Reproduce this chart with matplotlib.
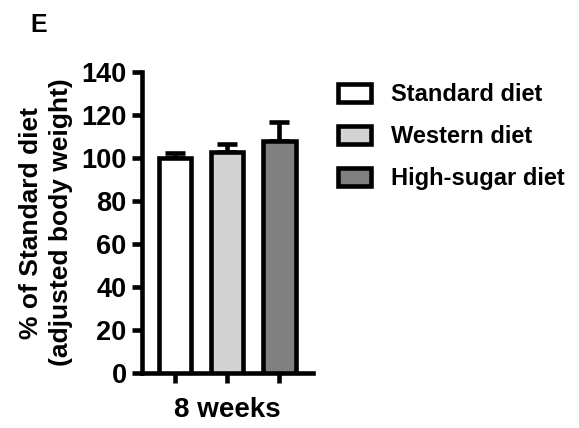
import numpy as np
import matplotlib
matplotlib.use("Agg")
import matplotlib.pyplot as plt

plt.rcParams['font.family'] = ['Liberation Sans', 'DejaVu Sans']
plt.rcParams['font.weight'] = 'bold'

# data
groups = ["Standard diet", "Western diet", "High-sugar diet"]
means = [100.0, 102.6, 108.0]
sem_upper = [2.2, 4.1, 8.6]
colors = ["#ffffff", "#d3d3d3", "#808080"]
yticks = [0, 20, 40, 60, 80, 100, 120, 140]

fig = plt.figure(figsize=(5.79, 4.28), dpi=100)
ax = fig.add_axes([0.245, 0.1285, 0.296, 0.703])

x = np.arange(len(groups))
lw = 3.3
bars = ax.bar(x, means, width=0.62, color=colors, edgecolor="black",
              linewidth=lw, label=groups, zorder=3)
ax.errorbar(x, means, yerr=[[0] * len(means), sem_upper], fmt="none",
            ecolor="black", elinewidth=lw, capsize=7.5, capthick=lw, zorder=2)

ax.set_ylim(0, 140)
ax.set_xlim(-0.635, 2.65)
ax.set_yticks(yticks)
ax.set_yticklabels([str(t) for t in yticks], fontsize=19.5, fontweight='bold')
ax.set_xticks(x)
ax.set_xticklabels([])
ax.tick_params(width=lw, length=7, direction='out', pad=4)

for s in ["top", "right"]:
    ax.spines[s].set_visible(False)
for s in ["left", "bottom"]:
    ax.spines[s].set_linewidth(lw)

ax.set_xlabel("8 weeks", fontsize=20, fontweight='bold', labelpad=6)
ax.set_ylabel("% of Standard diet\n(adjusted body weight)", fontsize=19,
              fontweight='bold', labelpad=6, linespacing=1.3)

fig.text(0.052, 0.925, "E", fontsize=18, fontweight='bold')

leg = fig.legend(handles=list(bars), labels=groups, loc="upper left",
                 bbox_to_anchor=(0.547, 0.855), frameon=False,
                 prop={'size': 17, 'weight': 'bold'},
                 handlelength=1.4, handleheight=0.75, labelspacing=0.8,
                 handletextpad=0.85)

fig.savefig("out.png", dpi=100)
